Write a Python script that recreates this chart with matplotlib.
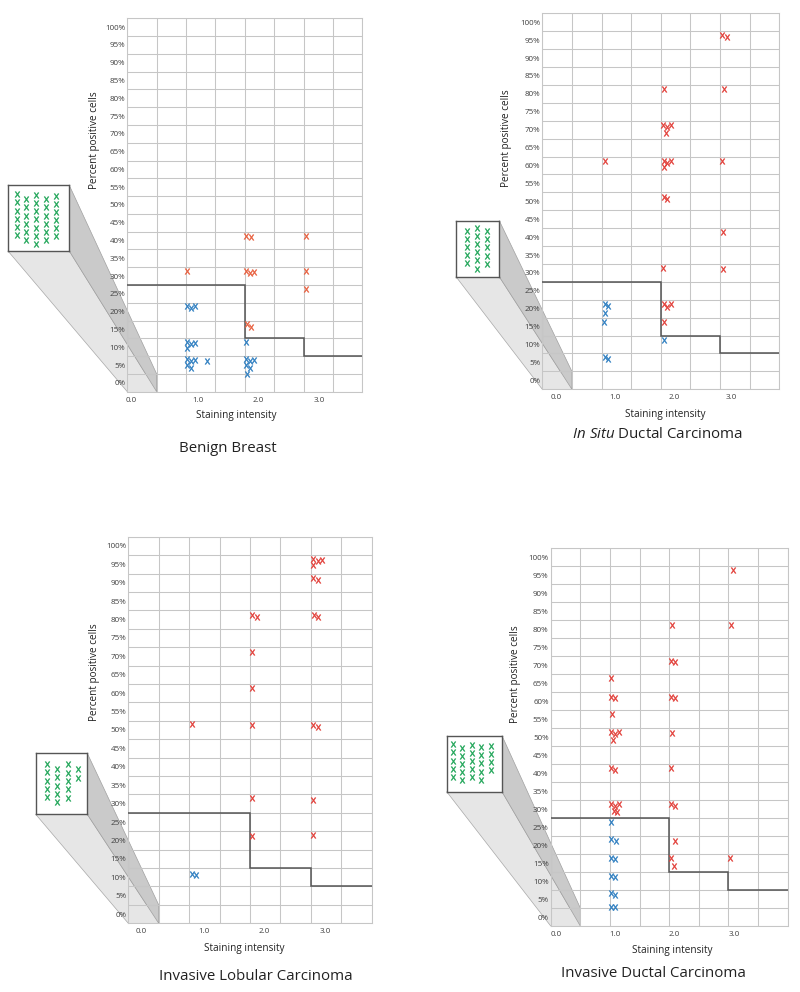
import matplotlib
matplotlib.use("Agg")
import matplotlib.pyplot as plt
import numpy as np
from matplotlib.patches import Polygon

plt.rcParams['font.family'] = ['Open Sans', 'DejaVu Sans']
plt.rcParams['mathtext.fontset'] = 'custom'
plt.rcParams['mathtext.it'] = 'Open Sans:italic'
plt.rcParams['mathtext.rm'] = 'Open Sans'

# ---------------- data ----------------
titles = ["Benign Breast", r"$\mathit{In\ Situ}$ Ductal Carcinoma",
          "Invasive Lobular Carcinoma", "Invasive Ductal Carcinoma"]
xtick_labels = ["0.0", "1.0", "2.0", "3.0"]
ytick_vals = list(range(0, 101, 5))
thresh_edges = [0, 2, 3, 4]
thresh_vals = [27.5, 12.5, 7.5]

# Benign Breast
bb_red_x = [2.02, 2.10, 3.05, 1.02, 2.02, 2.09, 2.16, 3.05, 3.05, 2.04, 2.10]
bb_red_y = [41.4, 40.9, 41.3, 31.4, 31.4, 30.8, 31.25, 31.4, 26.5, 16.5, 15.8]
bb_blue_x = [1.02, 1.09, 1.16, 1.02, 1.02, 1.09, 1.16, 1.02, 1.09, 1.16, 1.02, 1.09, 1.36,
             2.02, 2.02, 2.09, 2.16, 2.02, 2.09, 2.03]
bb_blue_y = [21.6, 21.1, 21.6, 11.4, 9.9, 10.9, 11.1, 6.6, 6.1, 6.4, 5.0, 4.25, 6.0,
             11.4, 6.6, 6.1, 6.4, 5.0, 4.25, 2.5]
bb_green_counts = [6, 6, 7, 6, 6]
bb_green_offsets = [0, 0.61, 0.08, 0.61, 0.16]

# In Situ Ductal Carcinoma
is_red_x = [3.04, 3.12, 2.05, 3.06, 2.03, 2.10, 2.17, 2.08, 1.05, 2.05, 2.11, 2.17, 2.05, 3.04,
            2.05, 2.11, 3.05, 2.04, 3.05, 2.05, 2.11, 2.17, 2.05]
is_red_y = [96.5, 95.8, 81.3, 81.3, 71.2, 70.8, 71.2, 69.0, 61.3, 61.3, 60.8, 61.3, 59.5, 61.3,
            51.3, 50.7, 41.3, 31.4, 31.2, 21.2, 20.6, 21.2, 16.4]
is_blue_x = [1.05, 1.11, 1.06, 1.04, 2.05, 1.05, 1.11]
is_blue_y = [21.3, 20.9, 18.7, 16.3, 11.2, 6.6, 6.0]
is_green_counts = [5, 6, 5]
is_green_offsets = [0.37, 0, 0.41]

# Invasive Lobular Carcinoma
il_red_x = [3.04, 3.04, 3.11, 3.18, 3.04, 3.11, 2.04, 2.11, 3.05, 3.12, 2.03, 2.04,
            1.04, 2.04, 3.04, 3.11, 2.03, 3.04, 2.04, 3.04]
il_red_y = [96.4, 94.8, 95.8, 96.1, 91.3, 90.7, 81.2, 80.6, 81.2, 80.8, 71.3, 61.3,
            51.6, 51.3, 51.3, 50.9, 31.4, 31.0, 21.2, 21.4]
il_blue_x = [1.04, 1.12]
il_blue_y = [10.9, 10.5]
il_green_counts = [5, 5, 5, 2]
il_green_offsets = [0, 0.61, 0.04, 0.65]

# Invasive Ductal Carcinoma
id_red_x = [3.08, 2.05, 3.04, 2.03, 2.10, 1.02, 1.02, 1.09, 2.03, 2.10, 1.03, 1.02, 1.09, 1.16,
            1.05, 2.04, 1.02, 1.09, 2.03, 1.02, 1.09, 1.15, 1.06, 1.12, 2.03, 2.09, 2.10, 2.03,
            2.08, 3.03]
id_red_y = [96.5, 81.2, 81.2, 71.3, 70.8, 66.5, 61.3, 61.0, 61.3, 60.8, 56.5, 51.3, 50.9, 51.3,
            49.1, 51.1, 41.4, 41.0, 41.3, 31.3, 30.9, 31.3, 29.5, 29.1, 31.3, 30.9, 21.1, 16.5,
            14.2, 16.5]
id_blue_x = [1.02, 1.02, 1.10, 1.01, 1.08, 1.02, 1.09, 1.02, 1.09, 1.02, 1.09]
id_blue_y = [26.4, 21.6, 21.2, 16.5, 16.0, 11.5, 11.1, 6.8, 6.2, 2.9, 2.9]
id_green_counts = [5, 5, 5, 5, 4]
id_green_offsets = [0, 0.41, 0.08, 0.37, 0.16]

# ---------------- layout / style ----------------
W, H = 800, 992
GRID = '#c6c6c6'
RED = '#e2403a'
RED_BB = '#e8603f'
BLUE = '#2f7fc1'
GREEN = '#22a65a'
TXT = '#404040'
XMARK = r'$\mathrm{x}$'
MS = 16
MLW = 0.35

panels = [
    dict(title=titles[0], rx=bb_red_x, ry=bb_red_y, bx=bb_blue_x, by=bb_blue_y,
         gc=bb_green_counts, go=bb_green_offsets, red=RED_BB,
         axes=(127.3, 18.3, 362.3, 391.7), xt=[0.07, 1.21, 2.22, 3.26],
         box=(8, 185.3, 69.3, 251), gxl=(-0.88, 5.36), gyl=(6.94, -1.10),
         xlab=(236, 415.7), ylab=(95, 140), tpos=(227.5, 449)),
    dict(title=titles[1], rx=is_red_x, ry=is_red_y, bx=is_blue_x, by=is_blue_y,
         gc=is_green_counts, go=is_green_offsets, red=RED,
         axes=(542.3, 13.3, 779.3, 389.3), xt=[0.24, 1.22, 2.23, 3.19],
         box=(456, 220.7, 499.3, 276.7), gxl=(-1.03, 3.16), gyl=(6.0, -0.86),
         xlab=(665, 414.3), ylab=(507, 138), tpos=(657.5, 435)),
    dict(title=titles[2], rx=il_red_x, ry=il_red_y, bx=il_blue_x, by=il_blue_y,
         gc=il_green_counts, go=il_green_offsets, red=RED,
         axes=(128.3, 536.7, 371.7, 923.3), xt=[0.21, 1.24, 2.23, 3.23],
         box=(35.7, 753.3, 87.3, 814.3), gxl=(-1.05, 3.89), gyl=(6.04, -1.28),
         xlab=(244.3, 948), ylab=(95, 671.7), tpos=(255.8, 977)),
    dict(title=titles[3], rx=id_red_x, ry=id_red_y, bx=id_blue_x, by=id_blue_y,
         gc=id_green_counts, go=id_green_offsets, red=RED,
         axes=(550.7, 548.3, 787.7, 926), xt=[0.09, 1.09, 2.09, 3.09],
         box=(446.7, 735.7, 502, 791.7), gxl=(-0.63, 5.15), gyl=(5.86, -1.07),
         xlab=(672.5, 950.7), ylab=(515.7, 674), tpos=(653.5, 973.3)),
]


def rect_px(l, t, r, b):
    return [l / W, 1 - b / H, (r - l) / W, (b - t) / H]


fig = plt.figure(figsize=(W / 100, H / 100), dpi=100)
fig.patch.set_facecolor('white')
overlay = fig.add_axes([0, 0, 1, 1], zorder=0)
overlay.set_xlim(0, W)
overlay.set_ylim(H, 0)
overlay.axis('off')


def to_overlay(ax, pts):
    disp = ax.transData.transform(pts)
    return overlay.transData.inverted().transform(disp)


def xs(ax, x, y, color):
    ax.scatter(x, y, marker=XMARK, s=MS, facecolor=color, edgecolor=color,
               linewidths=MLW, zorder=4)


for p in panels:
    l, t, r, b = p['axes']
    ax = fig.add_axes(rect_px(l, t, r, b), zorder=2)
    ax.set_facecolor('none')
    ax.set_xlim(0, 4)
    ax.set_ylim(-2.5, 102.5)
    ax.set_xticks(np.arange(0, 4.01, 0.5), minor=True)
    ax.set_yticks(np.arange(-2.5, 102.6, 5), minor=True)
    ax.set_xticks(p['xt'], labels=xtick_labels)
    ax.set_yticks(ytick_vals, labels=[f'{v}%' for v in ytick_vals])
    ax.grid(which='minor', color=GRID, lw=0.75)
    ax.grid(which='major', visible=False)
    ax.tick_params(which='both', length=0)
    ax.tick_params(axis='x', which='major', labelsize=5.8, labelcolor=TXT, pad=3.5)
    ax.tick_params(axis='y', which='major', labelsize=5.8, labelcolor=TXT, pad=1.5)
    for s in ax.spines.values():
        s.set_color(GRID)
        s.set_linewidth(0.75)

    ax.stairs(thresh_vals, thresh_edges, baseline=None, color='#555555', lw=1.1, zorder=3)
    xs(ax, p['rx'], p['ry'], p['red'])
    xs(ax, p['bx'], p['by'], BLUE)

    ax.set_xlabel('Staining intensity', fontsize=7.2, color='#222222')
    ax.set_ylabel('Percent positive cells', fontsize=7.2, color='#222222')
    xl, yl = p['xlab']
    ax.xaxis.set_label_coords((xl - l) / (r - l), (b - yl) / (b - t))
    ax.xaxis.label.set_va('center')
    yx, yy = p['ylab']
    ax.yaxis.set_label_coords((yx - l) / (r - l), (b - yy) / (b - t))
    ax.yaxis.label.set_va('center')
    ax.yaxis.label.set_ha('center')

    # callout projection from the zero-intensity cell to the inset box
    bl_, bt_, br_, bb_ = p['box']
    cell = to_overlay(ax, [(0, -2.5), (0.5, -2.5), (0.5, 2.5), (0, 2.5)])
    c_bl, c_br, c_tr, c_tl = cell
    overlay.add_patch(Polygon([(bl_, bb_), (br_, bb_), c_br, c_bl], closed=True,
                              facecolor='#e6e6e6', edgecolor='#a8a8a8', lw=0.5))
    overlay.add_patch(Polygon([c_bl, c_br, c_tr, c_tl], closed=True,
                              facecolor='#e6e6e6', edgecolor='#a8a8a8', lw=0.5))
    overlay.add_patch(Polygon([(br_, bt_), (br_, bb_), c_br, c_tr], closed=True,
                              facecolor='#cacaca', edgecolor='#a0a0a0', lw=0.5))

    gax = fig.add_axes(rect_px(*p['box']), zorder=3)
    gax.set_facecolor('white')
    gx, gy = [], []
    for ci, (cnt, off) in enumerate(zip(p['gc'], p['go'])):
        for k in range(cnt):
            gx.append(ci)
            gy.append(off + k)
    xs(gax, gx, gy, GREEN)
    gax.set_xlim(*p['gxl'])
    gax.set_ylim(*p['gyl'])
    gax.set_xticks([])
    gax.set_yticks([])
    for s in gax.spines.values():
        s.set_color('#555555')
        s.set_linewidth(1.0)

    tx, ty = p['tpos']
    fig.text(tx / W, 1 - ty / H, p['title'], ha='center', va='center',
             fontsize=10.8, color='#222222')

fig.savefig('out.png', dpi=100, facecolor='white')
